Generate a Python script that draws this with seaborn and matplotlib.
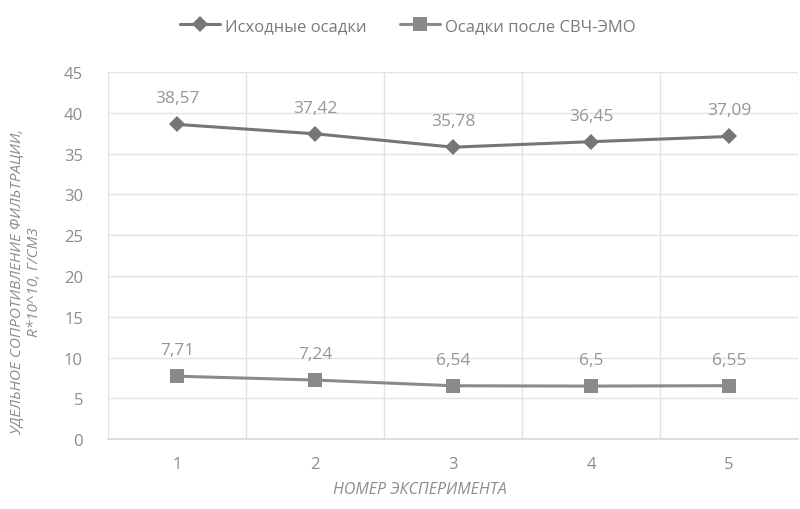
import matplotlib
matplotlib.use("Agg")
import matplotlib.pyplot as plt
import seaborn as sns
import pandas as pd
from matplotlib.ticker import MultipleLocator, FixedLocator

experiments = [1, 2, 3, 4, 5]
series_names = ["Исходные осадки", "Осадки после СВЧ-ЭМО"]
initial = [38.57, 37.42, 35.78, 36.45, 37.09]
after = [7.71, 7.24, 6.54, 6.5, 6.55]
x_title = "НОМЕР ЭКСПЕРИМЕНТА"
y_title = "УДЕЛЬНОЕ СОПРОТИВЛЕНИЕ ФИЛЬТРАЦИИ,\nR*10^10, Г/СМ3"

df = pd.DataFrame({
    "exp": experiments * 2,
    "val": initial + after,
    "series": [series_names[0]] * 5 + [series_names[1]] * 5,
})

sns.set_theme(style="white")
plt.rcParams['font.family'] = ['Open Sans', 'DejaVu Sans']

fig = plt.figure(figsize=(8, 5.1), dpi=100)
ax = fig.add_axes([0.135, 0.137, 0.8625, 0.72])

colors = {series_names[0]: "#767676", series_names[1]: "#8a8a8a"}
markers = {series_names[0]: "D", series_names[1]: "s"}
sns.lineplot(data=df, x="exp", y="val", hue="series", style="series",
             markers=markers, dashes=False, palette=colors, ax=ax,
             linewidth=2.2, markersize=9, markeredgewidth=0, legend=True)
for line in ax.get_lines():
    if line.get_marker() == "s":
        line.set_markersize(10)
    elif line.get_marker() == "D":
        line.set_markersize(8)

for s, vals in zip(series_names, [initial, after]):
    for xv, yv in zip(experiments, vals):
        txt = f"{yv:g}".replace(".", ",")
        ax.annotate(txt, (xv, yv), xytext=(0, 13), textcoords="offset points",
                    ha="center", va="bottom", fontsize=12.5, color="#969696")

ax.set_xlim(0.5, 5.5)
ax.set_ylim(0, 45)
ax.yaxis.set_major_locator(MultipleLocator(5))
ax.xaxis.set_major_locator(FixedLocator(experiments))
ax.xaxis.set_minor_locator(FixedLocator([0.5, 1.5, 2.5, 3.5, 4.5, 5.5]))
ax.grid(axis="y", which="major", color="#e3e3e3", linewidth=1)
ax.grid(axis="x", which="minor", color="#e3e3e3", linewidth=1)
ax.set_axisbelow(True)
for side in ["top", "right", "left"]:
    ax.spines[side].set_visible(False)
ax.spines["bottom"].set_color("#d9d9d9")
ax.tick_params(axis="both", which="both", length=0, labelsize=12, colors="#8c8c8c")
ax.tick_params(axis="x", pad=12)
ax.tick_params(axis="y", pad=18)

ax.set_xlabel(x_title, fontsize=11.5, color="#8c8c8c", style="italic")
ax.xaxis.set_label_coords(0.452, -0.115)
ax.set_ylabel(y_title, fontsize=11, color="#8c8c8c", style="italic")
ax.yaxis.set_label_coords(-0.095, 0.43)

handles, labels = ax.get_legend_handles_labels()
leg = fig.legend(handles, labels, loc="center", bbox_to_anchor=(0.51, 0.947), ncol=2,
                 frameon=False, fontsize=12, handlelength=2.4, handletextpad=0.3,
                 columnspacing=2.0, labelcolor="#7a7a7a")
if ax.get_legend():
    ax.get_legend().remove()

fig.savefig("out.png", dpi=100)
